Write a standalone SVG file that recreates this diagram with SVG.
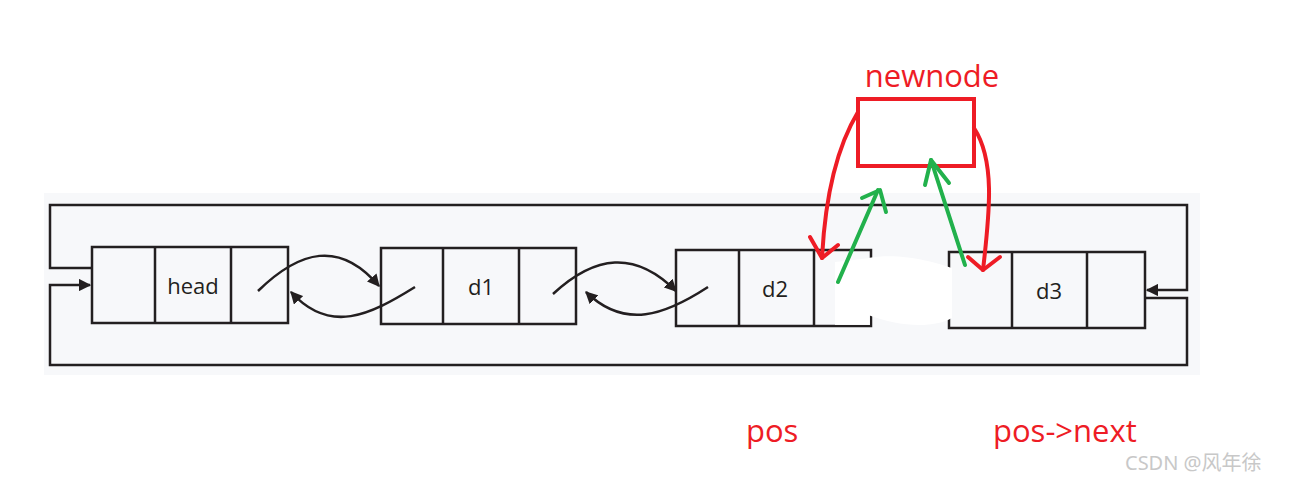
<svg xmlns="http://www.w3.org/2000/svg" width="1304" height="484" viewBox="0 0 1304 484">
<style>
.box{fill:none;stroke:#231f20;stroke-width:2.5}
.ln{fill:none;stroke:#231f20;stroke-width:2.5}
.t{font-family:"Open Sans","Liberation Sans",sans-serif;font-size:22px;fill:#231f20;text-anchor:middle}
.red{fill:none;stroke:#ee1c25;stroke-width:4;stroke-linecap:round;stroke-linejoin:round}
.grn{fill:none;stroke:#22b14c;stroke-width:4;stroke-linecap:round;stroke-linejoin:round}
.rt{font-family:"Open Sans","Liberation Sans",sans-serif;font-size:31px;fill:#ee1c25}
</style>
<defs>
<marker id="ah" viewBox="0 0 10 10" refX="9" refY="5" markerWidth="5" markerHeight="5" orient="auto"><path d="M0,0 L10,5 L0,10 z" fill="#231f20"/></marker>
</defs>
<rect width="1304" height="484" fill="#fff"/>
<rect x="44" y="193" width="1156" height="182" fill="#f7f8fa"/>
<g id="head"><rect class="box" x="92" y="247" width="196" height="76"/><path class="ln" d="M155,247V323M231,247V323"/><text class="t" x="193" y="294">head</text></g>
<g id="d1"><rect class="box" x="381" y="248" width="195" height="76"/><path class="ln" d="M443,248V324M519,248V324"/><text class="t" x="481" y="295">d1</text></g>
<g id="d2"><rect class="box" x="676" y="250" width="195" height="76"/><path class="ln" d="M739,250V326M814,250V326"/><text class="t" x="775" y="297">d2</text></g>
<g id="d3"><rect class="box" x="949" y="252" width="196" height="76"/><path class="ln" d="M1012,252V328M1087,252V328"/><text class="t" x="1049" y="299">d3</text></g>
<g id="newnode"><rect x="858" y="99" width="116" height="67" fill="none" stroke="#ee1c25" stroke-width="4"/><text class="rt" x="932" y="87" text-anchor="middle">newnode</text></g>
<g id="connectors">
<path class="ln" d="M92,268H50V205H1187V290H1147" marker-end="url(#ah)"/>
<path class="ln" d="M1145,298H1187V365H50V285H90" marker-end="url(#ah)"/>
<path class="ln" d="M258,291C300,250 340,240 379,286" marker-end="url(#ah)"/>
<path class="ln" d="M415,287C370,315 330,335 291,292" marker-end="url(#ah)"/>
<path class="ln" d="M553,294C595,255 635,250 676,291" marker-end="url(#ah)"/>
<path class="ln" d="M708,287C665,315 625,330 586,292" marker-end="url(#ah)"/>
<path d="M868,258C900,252 935,262 952,268L952,318C930,330 895,325 868,315Z" fill="#fff"/>
<path d="M835,262L870,258L870,325L835,325Z" fill="#fff" opacity="0.9"/>
<path class="red" d="M858,112C835,150 825,200 822,258"/>
<path class="red" d="M810,237L822,258L838,245"/>
<path class="red" d="M974,128C995,160 990,210 983,270"/>
<path class="red" d="M968,257L983,270L1000,257"/>
<path class="grn" d="M838,282L878,190"/>
<path class="grn" d="M862,198L880,190L886,212"/>
<path class="grn" d="M965,265L931,160"/>
<path class="grn" d="M925,185L931,160L949,183"/>
</g>
<text class="rt" x="746" y="442">pos</text>
<text class="rt" x="993" y="442">pos-&gt;next</text>
<text x="1125" y="470" font-family="'Noto Sans','Noto Sans CJK SC',sans-serif" font-size="20" fill="#c8c8c8">CSDN @风年徐</text>
</svg>
